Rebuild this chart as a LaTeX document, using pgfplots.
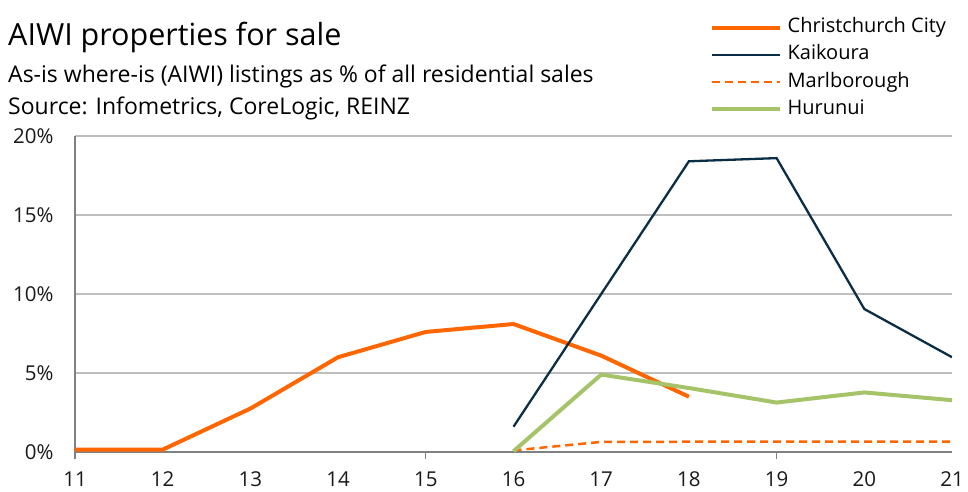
\documentclass[border=0pt]{standalone}
\usepackage{pgfplots}
\pgfplotsset{compat=1.18}
\usepackage{fontspec}
\setmainfont{Open Sans}
\definecolor{chch}{RGB}{255,102,0}
\definecolor{kaik}{RGB}{12,45,70}
\definecolor{hur}{RGB}{165,196,106}
\definecolor{gridc}{RGB}{190,190,190}
\definecolor{axc}{RGB}{128,128,128}
\begin{document}
\begin{tikzpicture}[x=1pt,y=1pt]
\useasboundingbox (0,0) rectangle (968,491);
\node[anchor=base west, inner sep=0pt, font=\fontsize{30.5}{34}\selectfont] at (8,445) {AIWI properties for sale};
\node[anchor=base west, inner sep=0pt, font=\fontsize{23}{26}\selectfont] at (8,408) {As-is where-is (AIWI) listings as \% of all residential sales};
\node[anchor=base west, inner sep=0pt, font=\fontsize{23}{26}\selectfont] at (8,377) {Source: Infometrics, CoreLogic, REINZ};
\begin{axis}[
  at={(75pt,39pt)}, anchor=south west,
  scale only axis, width=877pt, height=316pt,
  xmin=11, xmax=21, ymin=0, ymax=20,
  axis lines*=left,
  axis line style={axc, line width=1.2pt},
  xtick={11,...,21}, ytick={0,5,10,15,20},
  major tick length=0pt,
  tick align=outside,
  extra x ticks={11,15,19}, extra x tick labels={},
  extra x tick style={major tick length=7pt, tick style={axc, line width=1.2pt}},
  yticklabel={\pgfmathprintnumber{\tick}\%},
  /pgf/number format/assume math mode=true,
  ticklabel style={font=\fontsize{20.5}{24}\selectfont, text=black!90},
  xticklabel style={yshift=-16pt},
  yticklabel style={xshift=-18pt},
  ymajorgrids, grid style={gridc, line width=1.2pt},
  legend style={at={(0.720,1.385)}, anchor=north west, draw=none, fill=none,
    font=\fontsize{20}{23}\selectfont, row sep=5.3pt,
    nodes={inner sep=2pt, text height=14pt, text depth=4pt},
    /tikz/every odd column/.append style={column sep=4pt}},
  legend cell align=left,
  legend image code/.code={\draw[#1] (0pt,0pt) -- (68pt,0pt);},
]
\addplot[chch, line width=4pt] coordinates {(11,0.15) (12,0.15) (13,2.75) (14,6.0) (15,7.6) (16,8.1) (17,6.1) (18,3.5)};
\addlegendentry{Christchurch City}
\addplot[kaik, line width=2.3pt] coordinates {(16,1.6) (17,10.0) (18,18.4) (19,18.6) (20,9.05) (21,6.0)};
\addlegendentry{Kaikoura}
\addplot[chch, line width=2.5pt, dash pattern=on 8pt off 5pt] coordinates {(16,0.1) (17,0.64) (18,0.65) (19,0.65) (20,0.65) (21,0.65)};
\addlegendentry{Marlborough}
\addplot[hur, line width=4pt] coordinates {(16,0.05) (17,4.9) (18,4.05) (19,3.13) (20,3.77) (21,3.28)};
\addlegendentry{Hurunui}
\end{axis}
\end{tikzpicture}
\end{document}
